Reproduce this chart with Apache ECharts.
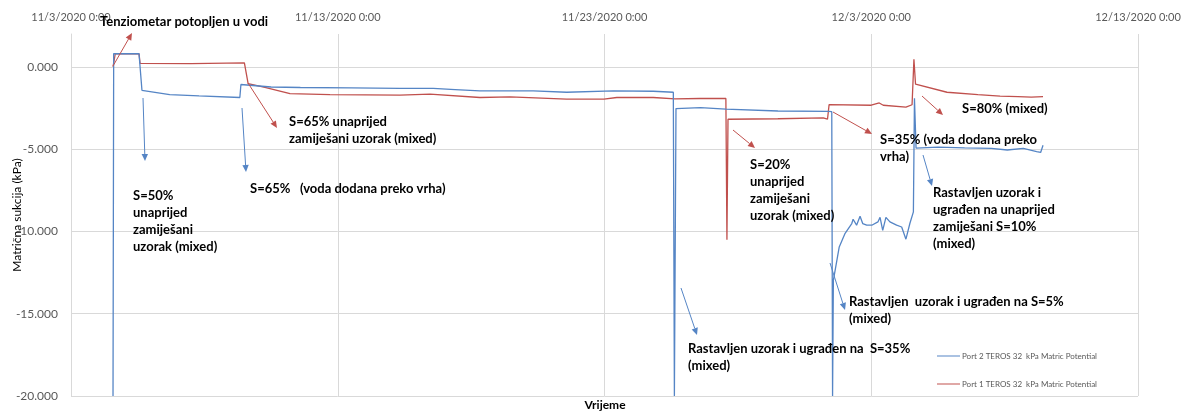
<!DOCTYPE html>
<html>
<head>
<meta charset="utf-8">
<title>Matrična sukcija</title>
<script src="https://cdn.jsdelivr.net/npm/echarts@6/dist/echarts.min.js"></script>
<style>
  html, body { margin: 0; padding: 0; background: #fff; }
  #chart { width: 1189px; height: 412px; }
</style>
</head>
<body>
<div id="chart"></div>
<script>
// x = days after 11/3/2020 0:00, y = kPa
var startDate = Date.UTC(2020, 10, 3);
var xTicks = [0, 10, 20, 30, 40];

var port2Points = [
  [1.575, -20], [1.60, 0.81], [2.55, 0.80], [2.66, -1.42], [3.70, -1.68], [4.80, -1.76],
  [6.33, -1.86], [6.37, -1.07], [7.50, -1.22], [8.60, -1.25], [10.5, -1.27], [12.33, -1.31],
  [13.58, -1.31], [14.40, -1.38], [15.33, -1.46], [17.33, -1.46], [18.58, -1.54], [20.33, -1.46],
  [21.83, -1.48], [22.58, -1.54], [22.62, -20], [22.68, -2.53], [23.60, -2.48], [24.55, -2.57],
  [24.62, -2.66], [26.50, -2.68], [28.40, -2.70], [28.52, -2.72], [28.55, -20], [28.58, -12.97],
  [28.80, -10.94], [29.02, -10.11], [29.27, -9.52], [29.32, -9.26], [29.45, -9.62], [29.58, -9.08],
  [29.68, -9.52], [29.83, -9.62], [30.02, -9.62], [30.25, -9.42], [30.33, -9.14], [30.43, -9.93],
  [30.55, -9.14], [30.70, -9.42], [30.95, -9.62], [31.14, -9.73], [31.30, -10.47], [31.45, -9.50],
  [31.58, -8.81], [31.62, -1.90], [31.68, -4.94], [32.50, -4.88], [33.50, -4.92], [34.50, -4.95],
  [35.10, -5.05], [35.70, -4.95], [36.20, -5.15], [36.35, -5.20], [36.44, -4.76]
];

var port1Points = [
  [1.575, 0.0], [1.66, 0.80], [2.55, 0.80], [2.59, 0.22], [4.50, 0.20], [6.50, 0.25],
  [6.56, 0.22], [6.64, -1.01], [7.27, -1.25], [8.21, -1.62], [9.71, -1.68], [12.33, -1.72],
  [13.46, -1.66], [15.33, -1.86], [16.46, -1.82], [18.58, -1.96], [19.98, -1.96], [20.46, -1.86],
  [21.83, -1.86], [22.64, -1.94], [23.58, -1.92], [24.55, -1.92], [24.59, -10.5], [24.63, -3.18],
  [26.50, -3.15], [28.20, -3.10], [28.36, -3.18], [28.42, -2.29], [30.00, -2.33], [30.30, -2.19],
  [30.45, -2.33], [31.30, -2.45], [31.53, -2.30], [31.60, 0.47], [31.66, -1.05], [32.84, -1.54],
  [34.00, -1.68], [34.83, -1.77], [35.50, -1.80], [36.00, -1.84], [36.44, -1.80]
];

var seriesNames = ['Port 2 TEROS 32  kPa Matric Potential', 'Port 1 TEROS 32  kPa Matric Potential'];

// annotation text: left x, centre y of first line
var notes = [
  { text: 'Tenziometar potopljen u vodi', x: 100, y: 22 },
  { text: 'S=65% unaprijed\nzamiješani uzorak (mixed)', x: 289, y: 122 },
  { text: 'S=50%\nunaprijed\nzamiješani\nuzorak (mixed)', x: 133, y: 196 },
  { text: 'S=65%   (voda dodana preko vrha)', x: 250, y: 189 },
  { text: 'S=20%\nunaprijed\nzamiješani\nuzorak (mixed)', x: 750, y: 165 },
  { text: 'S=35% (voda dodana preko\nvrha)', x: 880, y: 140 },
  { text: 'S=80% (mixed)', x: 962, y: 109 },
  { text: 'Rastavljen uzorak i\nugrađen na unaprijed\nzamiješani S=10%\n(mixed)', x: 933, y: 193 },
  { text: 'Rastavljen  uzorak i ugrađen na S=5%\n(mixed)', x: 849, y: 302 },
  { text: 'Rastavljen uzorak i ugrađen na  S=35%\n(mixed)', x: 688, y: 349 }
];

var RED = '#C0504D', BLUE = '#5585C5';
var arrows = [
  [113, 66, 132, 33, RED],
  [248, 83, 277, 128, RED],
  [143, 98, 145, 161, BLUE],
  [242, 108, 246, 172, BLUE],
  [733, 130, 755, 148, RED],
  [833, 112, 872, 134, RED],
  [922, 96, 943, 115, RED],
  [923, 155, 932, 186, BLUE],
  [830, 263, 845, 310, BLUE],
  [681, 288, 697, 335, BLUE]
];

function arrow(a) {
  var x1 = a[0], y1 = a[1], x2 = a[2], y2 = a[3], color = a[4];
  var ang = Math.atan2(y2 - y1, x2 - x1);
  var c = Math.cos(ang), s = Math.sin(ang);
  var bx = x2 - 7 * c, by = y2 - 7 * s;
  return [
    { type: 'line', shape: { x1: x1, y1: y1, x2: bx, y2: by }, style: { stroke: color, lineWidth: 1 }, z: 20 },
    { type: 'polygon', shape: { points: [[x2, y2], [bx - 3.2 * s, by + 3.2 * c], [bx + 3.2 * s, by - 3.2 * c]] },
      style: { fill: color }, z: 20 }
  ];
}

function dayLabel(d) {
  var t = new Date(startDate + d * 86400000);
  return (t.getUTCMonth() + 1) + '/' + t.getUTCDate() + '/' + t.getUTCFullYear() + ' 0:00';
}

var graphics = [];
notes.forEach(function (n) {
  graphics.push({
    type: 'text', x: n.x, y: n.y - 8.5, z: 20,
    style: { text: n.text, font: 'bold 13px Lato', fill: '#000', lineHeight: 17, verticalAlign: 'top' }
  });
});
arrows.forEach(function (a) { graphics = graphics.concat(arrow(a)); });
graphics.push({
  type: 'text', x: 605, y: 405, z: 20,
  style: { text: 'Vrijeme', font: 'bold 12px Lato', fill: '#000', align: 'center', verticalAlign: 'middle' }
});

var myChart = echarts.init(document.getElementById('chart'));
var option = {
  animation: false,
  textStyle: { fontFamily: 'Lato' },
  grid: { left: 71, right: 51, top: 34, bottom: 16, outerBoundsMode: 'none' },
  legend: {
    orient: 'vertical',
    left: 932,
    top: 345,
    itemWidth: 23,
    itemHeight: 1,
    itemGap: 16,
    icon: 'rect',
    textStyle: { fontSize: 8, color: '#595959', lineHeight: 12, padding: [0, 0, 0, -3] },
    data: seriesNames
  },
  xAxis: {
    type: 'value',
    position: 'top',
    min: xTicks[0],
    max: xTicks[xTicks.length - 1],
    interval: 10,
    axisLine: { show: false },
    axisTick: { show: false },
    splitLine: { show: true, lineStyle: { color: '#d9d9d9', width: 1 } },
    axisLabel: { margin: 11, fontSize: 11, color: '#595959', formatter: dayLabel }
  },
  yAxis: {
    type: 'value',
    min: -20,
    max: 2,
    interval: 5,
    name: 'Matrična sukcija (kPa)',
    nameLocation: 'middle',
    nameGap: 48,
    nameMoveOverlap: false,
    nameTextStyle: { fontSize: 12, color: '#000' },
    axisLine: { show: true, lineStyle: { color: '#d9d9d9' } },
    axisTick: { show: false },
    axisLabel: { margin: 13, fontSize: 12, color: '#595959', showMaxLabel: false,
      formatter: function (v) { return v.toFixed(3); } },
    splitLine: { show: true, showMaxLine: false, lineStyle: { color: '#d9d9d9', width: 1 } }
  },
  series: [
    {
      name: seriesNames[0], type: 'line', data: port2Points, symbol: 'none',
      lineStyle: { color: BLUE, width: 1.3 }, itemStyle: { color: BLUE }, z: 3
    },
    {
      name: seriesNames[1], type: 'line', data: port1Points, symbol: 'none',
      lineStyle: { color: RED, width: 1.3 }, itemStyle: { color: RED }, z: 2
    }
  ],
  graphic: graphics
};
myChart.setOption(option);
</script>
</body>
</html>
